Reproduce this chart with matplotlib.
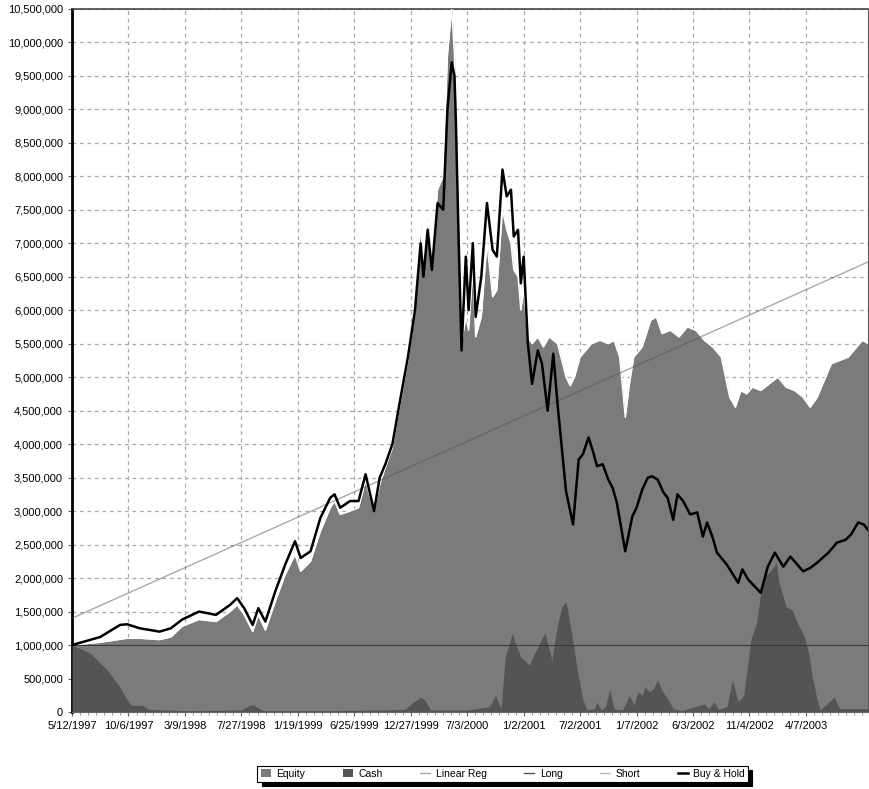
"""
Equity / Cash / Buy & Hold chart (5/1997 - 2003)
"""
import numpy as np
import matplotlib
matplotlib.use("Agg")
import matplotlib.pyplot as plt
from matplotlib.patches import Patch
from matplotlib.lines import Line2D
from matplotlib.ticker import FuncFormatter, MultipleLocator

plt.rcParams['font.family'] = ['Liberation Sans', 'DejaVu Sans']

# x axis = bar number, one labelled tick every 20 bars
tick_labels = ["5/12/1997", "10/6/1997", "3/9/1998", "7/27/1998", "1/19/1999",
               "6/25/1999", "12/27/1999", "7/3/2000", "1/2/2001", "7/2/2001",
               "1/7/2002", "6/3/2002", "11/4/2002", "4/7/2003"]
bars_per_label = 20
last_bar = 282

# Buy & Hold (millions)
bh_x = [0, 10, 17, 19.5, 24, 31, 35, 39, 45, 51, 56, 58.5, 61, 64, 66, 68.5,
        72, 75.5, 79, 81, 84.5, 88, 91.5, 93, 95, 98.5, 101.5, 104, 107, 109,
        111, 113.5, 116, 119, 121.5, 123.5, 124.5, 126, 127.5, 129.5, 131.5,
        133, 134.5, 135.5, 136, 137, 138, 139.5, 140.5, 142, 143, 145, 147,
        149, 150.5, 152.5, 154, 155.5, 156.5, 158, 159, 160, 161.5, 163, 165,
        166.5, 168.5, 170.5, 172, 175, 177.5, 179.5, 181, 183, 184.5, 186, 188,
        190, 191.5, 193, 196, 198.5, 200, 202, 204, 205.5, 207.5, 209.5, 211,
        213, 214.5, 216.5, 219, 221.5, 223.5, 225, 227, 228.5, 232, 236, 237.5,
        239.5, 244, 246.5, 249, 252, 254.5, 257, 259, 261.5, 264, 268, 271,
        274, 276, 278.5, 280.5, 282]
bh_y = [1.00, 1.12, 1.30, 1.31, 1.25, 1.20, 1.25, 1.38, 1.50, 1.45, 1.60, 1.70,
        1.55, 1.30, 1.55, 1.35, 1.80, 2.20, 2.55, 2.30, 2.40, 2.90, 3.20, 3.25,
        3.05, 3.15, 3.15, 3.55, 3.00, 3.50, 3.70, 4.00, 4.60, 5.30, 6.00, 7.00,
        6.50, 7.20, 6.60, 7.60, 7.50, 9.00, 9.70, 9.50, 8.80, 7.00, 5.40, 6.80,
        6.00, 7.00, 5.90, 6.50, 7.60, 6.90, 6.80, 8.10, 7.70, 7.80, 7.10, 7.20,
        6.40, 6.80, 5.50, 4.90, 5.40, 5.20, 4.50, 5.35, 4.60, 3.30, 2.80, 3.77,
        3.85, 4.10, 3.90, 3.67, 3.70, 3.47, 3.35, 3.13, 2.40, 2.92, 3.05, 3.32,
        3.50, 3.52, 3.47, 3.28, 3.20, 2.87, 3.25, 3.15, 2.95, 2.98, 2.62, 2.83,
        2.60, 2.38, 2.20, 1.93, 2.13, 1.98, 1.78, 2.17, 2.38, 2.17, 2.32, 2.20,
        2.10, 2.15, 2.23, 2.38, 2.53, 2.57, 2.65, 2.83, 2.80, 2.72]

# Equity (millions)
eq_x = [0, 10, 19.5, 24, 31, 35, 39, 45, 51, 56, 58.5, 61, 64, 66, 68.5, 72,
        75.5, 79, 81, 84.5, 88, 91.5, 93, 95, 98.5, 101.5, 104, 107, 109, 111,
        113.5, 116, 119, 121.5, 123.5, 124.5, 126, 127.5, 129.5, 131.5, 133,
        134.5, 135.5, 136, 137, 138, 139.5, 140.5, 142, 143, 145, 147, 149,
        150.5, 152.5, 154, 155.5, 156.5, 158, 159, 160, 161.5, 163, 165, 167,
        169, 172, 175, 176.5, 178, 180, 182, 184, 187, 190, 192, 194, 196,
        197.5, 199, 202, 205, 207, 209, 212, 215, 218, 221, 224, 227, 230, 233,
        235, 237, 239, 241, 244, 247, 250, 253, 256, 259, 261.5, 264, 266, 269,
        272, 275, 278, 280, 282]
eq_y = [1.00, 1.04, 1.10, 1.10, 1.08, 1.12, 1.28, 1.38, 1.35, 1.50, 1.60, 1.45,
        1.20, 1.45, 1.22, 1.65, 2.05, 2.35, 2.10, 2.25, 2.70, 3.05, 3.15, 2.95,
        3.00, 3.05, 3.45, 3.00, 3.40, 3.65, 3.95, 4.55, 5.25, 6.00, 7.30, 6.60,
        7.40, 6.70, 7.80, 8.00, 9.80, 10.50, 9.80, 9.00, 7.20, 5.50, 5.90, 5.70,
        6.60, 5.60, 5.90, 7.00, 6.20, 6.30, 7.50, 7.20, 7.00, 6.60, 6.50, 6.00,
        6.30, 5.60, 5.50, 5.60, 5.45, 5.60, 5.50, 5.00, 4.87, 5.00, 5.30, 5.40,
        5.50, 5.55, 5.50, 5.55, 5.30, 4.40, 4.90, 5.30, 5.45, 5.85, 5.90, 5.65,
        5.70, 5.60, 5.75, 5.70, 5.55, 5.45, 5.30, 4.70, 4.55, 4.80, 4.75, 4.85,
        4.80, 4.90, 5.00, 4.85, 4.80, 4.70, 4.55, 4.70, 4.90, 5.20, 5.25, 5.30,
        5.45, 5.55, 5.50]

# Cash (millions)
cash_x = [0, 6.4, 12.4, 17, 19.5, 21, 25, 27, 40, 60, 62, 64, 66, 68, 90, 110,
          118, 121, 123.5, 125, 127, 140, 145, 148, 150, 152, 153.5, 156, 157,
          159, 162, 164.5, 167.5, 170, 172, 173.5, 175, 177, 179, 181, 182.5,
          185, 186, 187.5, 189, 190.5, 192, 195, 197.5, 199, 200.5, 202, 203,
          204.5, 206, 207.5, 209, 211, 213, 216, 224, 225.5, 227.5, 229, 232,
          234, 236, 238, 240.5, 242.5, 244, 245.5, 248, 249.5, 250.5, 253, 255,
          257, 259.5, 261, 262, 264, 265, 270, 272, 282]
cash_y = [1.00, 0.88, 0.63, 0.37, 0.18, 0.10, 0.10, 0.04, 0.02, 0.03, 0.08,
          0.11, 0.06, 0.02, 0.02, 0.03, 0.04, 0.15, 0.22, 0.18, 0.03, 0.03,
          0.06, 0.08, 0.25, 0.05, 0.82, 1.18, 1.03, 0.82, 0.70, 0.93, 1.18,
          0.78, 1.30, 1.57, 1.65, 1.18, 0.63, 0.18, 0.03, 0.05, 0.15, 0.03,
          0.08, 0.33, 0.05, 0.03, 0.25, 0.10, 0.30, 0.25, 0.38, 0.30, 0.35,
          0.48, 0.32, 0.20, 0.05, 0.02, 0.12, 0.05, 0.15, 0.04, 0.08, 0.48,
          0.15, 0.25, 1.08, 1.33, 1.78, 2.02, 2.13, 2.23, 1.93, 1.57, 1.53,
          1.33, 1.12, 0.88, 0.58, 0.18, 0.03, 0.22, 0.05, 0.05]

# Linear regression and starting capital lines (millions)
linreg_x = [0, 282]
linreg_y = [1.40, 6.72]
long_x = [0, 282]
long_y = [1.00, 1.00]


def main():
    M = 1e6
    fig = plt.figure(figsize=(8.7, 7.89), dpi=100)
    ax = fig.add_axes([0.0828, 0.0976, 0.9149, 0.8912])

    ax.fill_between(eq_x, 0, np.array(eq_y) * M, color="#7b7b7b",
                    linewidth=0, zorder=2)
    ax.plot(eq_x, np.array(eq_y) * M, color="white", lw=1.0, zorder=3)
    ax.fill_between(cash_x, 0, np.array(cash_y) * M, color="#545454",
                    linewidth=0, zorder=3)
    ax.plot(linreg_x, np.array(linreg_y) * M, color="#555555", alpha=0.5,
            lw=1.0, zorder=4)
    ax.plot(long_x, np.array(long_y) * M, color="#3a3a3a", lw=0.8, zorder=4)
    ax.plot(bh_x, np.array(bh_y) * M, color="black", lw=1.8, zorder=5)

    ax.set_xlim(0, last_bar)
    ax.set_ylim(0, 10.5 * M)
    ax.set_xticks(np.arange(len(tick_labels)) * bars_per_label)
    ax.set_xticklabels(tick_labels, fontsize=8)
    ax.xaxis.set_minor_locator(MultipleLocator(bars_per_label / 7))
    ax.set_yticks(np.arange(0, 10.5 * M + 1, 0.5 * M))
    ax.yaxis.set_major_formatter(FuncFormatter(lambda v, p: f"{v:,.0f}"))
    ax.tick_params(axis="y", labelsize=8, length=3, color="#666666")
    ax.tick_params(axis="x", which="major", length=3, color="#666666")
    ax.tick_params(axis="x", which="minor", length=2, color="#888888")

    ax.grid(True, linestyle=(0, (3, 3)), color="#a8a8a8", lw=0.9, zorder=0)
    ax.set_axisbelow(True)

    ax.spines["left"].set_linewidth(2.0)
    ax.spines["left"].set_color("black")
    ax.spines["top"].set_linewidth(1.2)
    ax.spines["top"].set_color("#444444")
    ax.spines["right"].set_color("#555555")
    ax.spines["bottom"].set_color("#777777")

    handles = [
        Patch(facecolor="#7b7b7b", edgecolor="none", label="Equity"),
        Patch(facecolor="#545454", edgecolor="none", label="Cash"),
        Line2D([], [], color="#aaaaaa", lw=1, label="Linear Reg"),
        Line2D([], [], color="#555555", lw=1, label="Long"),
        Line2D([], [], color="#bbbbbb", lw=1, label="Short"),
        Line2D([], [], color="black", lw=1.8, label="Buy & Hold"),
    ]
    leg = fig.legend(handles=handles, loc="center", bbox_to_anchor=(0.578, 0.019),
                     ncol=6, fontsize=7.5, frameon=True, fancybox=False,
                     shadow={"color": "black", "alpha": 1.0, "ox": 3, "oy": -3},
                     handlelength=1.0, handleheight=0.8, columnspacing=3.6,
                     handletextpad=0.5, borderpad=0.3)
    leg.get_frame().set_edgecolor("black")
    leg.get_frame().set_linewidth(0.8)

    fig.savefig("out.png", dpi=100)
    plt.close(fig)


if __name__ == "__main__":
    main()
